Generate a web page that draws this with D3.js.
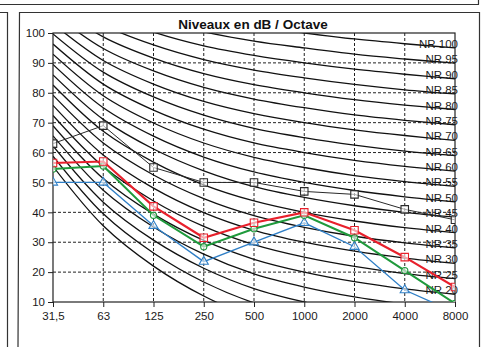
<!DOCTYPE html>
<html>
<head>
<meta charset="utf-8">
<script src="https://cdn.jsdelivr.net/npm/d3@7"></script>
<style>
  html, body { margin: 0; padding: 0; background: #fff; }
  svg { display: block; font-family: "Liberation Sans", Arial, sans-serif; }
</style>
</head>
<body>
<main></main>
<script>
"use strict";

const freqLabels = ["31,5", "63", "125", "250", "500", "1000", "2000", "4000", "8000"];
const yTicks = [10, 20, 30, 40, 50, 60, 70, 80, 90, 100];

// NR reference curves, read per octave band
const nrNames = [0, 5, 10, 15, 20, 25, 30, 35, 40, 45, 50, 55, 60, 65, 70, 75, 80, 85, 90, 95, 100];
const nr0 = [55.4, 35.5, 22.0, 12.0, 4.8, 0.0, -3.5, -6.1, -8.0];
const nr5 = [58.8, 39.5, 26.4, 16.7, 9.7, 5.0, 1.6, -1.0, -2.9];
const nr10 = [62.2, 43.4, 30.7, 21.3, 14.5, 10.0, 6.7, 4.2, 2.3];
const nr15 = [65.6, 47.4, 35.1, 26.0, 19.4, 15.0, 11.7, 9.3, 7.5];
const nr20 = [69.0, 51.3, 39.4, 30.6, 24.3, 20.0, 16.8, 14.4, 12.6];
const nr25 = [72.4, 55.3, 43.8, 35.3, 29.2, 25.0, 21.9, 19.5, 17.8];
const nr30 = [75.8, 59.2, 48.1, 39.9, 34.0, 30.0, 27.0, 24.7, 22.9];
const nr35 = [79.2, 63.2, 52.5, 44.6, 38.9, 35.0, 32.0, 29.8, 28.1];
const nr40 = [82.6, 67.1, 56.8, 49.2, 43.8, 40.0, 37.1, 34.9, 33.2];
const nr45 = [86.0, 71.1, 61.2, 53.9, 48.6, 45.0, 42.2, 40.0, 38.4];
const nr50 = [89.5, 75.0, 65.5, 58.5, 53.5, 50.0, 47.3, 45.2, 43.5];
const nr55 = [92.9, 79.0, 69.9, 63.2, 58.4, 55.0, 52.3, 50.3, 48.7];
const nr60 = [96.3, 82.9, 74.2, 67.8, 63.2, 60.0, 57.4, 55.4, 53.8];
const nr65 = [99.7, 86.9, 78.6, 72.5, 68.1, 65.0, 62.5, 60.5, 59.0];
const nr70 = [103.1, 90.8, 82.9, 77.1, 73.0, 70.0, 67.6, 65.7, 64.1];
const nr75 = [106.5, 94.8, 87.3, 81.8, 77.9, 75.0, 72.6, 70.8, 69.3];
const nr80 = [109.9, 98.7, 91.6, 86.4, 82.7, 80.0, 77.7, 75.9, 74.4];
const nr85 = [113.3, 102.7, 96.0, 91.1, 87.6, 85.0, 82.8, 81.0, 79.6];
const nr90 = [116.7, 106.6, 100.3, 95.7, 92.5, 90.0, 87.9, 86.2, 84.7];
const nr95 = [120.1, 110.6, 104.7, 100.4, 97.3, 95.0, 92.9, 91.3, 89.9];
const nr100 = [123.5, 114.5, 109.0, 105.0, 102.2, 100.0, 98.0, 96.4, 95.0];
const nrCurves = [nr0, nr5, nr10, nr15, nr20, nr25, nr30, nr35, nr40, nr45, nr50,
  nr55, nr60, nr65, nr70, nr75, nr80, nr85, nr90, nr95, nr100];
const nrLabelFrom = 20;

// measured levels
const blackLevels = [63, 69, 55, 50, 50, 47, 46, 41, 37.5];
const blueLevels = [50, 50, 35.5, 23.5, 30, 36.5, 28.5, 14, 6.5];
const greenLevels = [54.5, 55.5, 39, 28.5, 34.5, 39, 31.5, 20.5, 9.5];
const redLevels = [56.5, 57, 42, 31.5, 36.5, 40, 34, 25, 15];

const svgWidth = 490;
const svgHeight = 347;
const plot = { left: 53, right: 455, top: 33, bottom: 302 };

const svg = d3.select("main")
  .append("svg")
  .attr("width", svgWidth)
  .attr("height", svgHeight)
;

// scanned page frame
const frame = svg.append("g")
  .attr("fill", "none")
  .attr("stroke", "#333")
  .attr("stroke-width", 1.2)
;
frame.append("path").attr("d", "M0,4.5H479M478.5,0V4.5");
frame.append("path").attr("d", "M0,12.5H7.5M7.5,12V347");
frame.append("path").attr("d", "M18,347L19.5,12.5H479.5V347");

const xScale = d3.scalePoint()
  .domain(freqLabels)
  .range([plot.left, plot.right])
;
const yScale = d3.scaleLinear()
  .domain([10, 100])
  .range([plot.bottom, plot.top])
;

svg.append("defs")
  .append("clipPath")
  .attr("id", "plot-clip")
  .append("rect")
  .attr("x", plot.left)
  .attr("y", plot.top)
  .attr("width", plot.right - plot.left)
  .attr("height", plot.bottom - plot.top)
;

svg.append("text")
  .attr("x", 253)
  .attr("y", 29)
  .attr("text-anchor", "middle")
  .attr("font-size", 13.5)
  .attr("font-weight", "bold")
  .attr("fill", "#111")
  .text("Niveaux en dB / Octave")
;

// dashed grid
svg.append("g")
  .selectAll("line")
  .data(yTicks.slice(1, -1))
  .enter()
  .append("line")
  .attr("x1", plot.left)
  .attr("x2", plot.right)
  .attr("y1", d => yScale(d))
  .attr("y2", d => yScale(d))
  .attr("stroke", "#222")
  .attr("stroke-dasharray", "3,2")
;
svg.append("g")
  .selectAll("line")
  .data(freqLabels.slice(1, -1))
  .enter()
  .append("line")
  .attr("x1", d => xScale(d))
  .attr("x2", d => xScale(d))
  .attr("y1", plot.top)
  .attr("y2", plot.bottom)
  .attr("stroke", "#222")
  .attr("stroke-dasharray", "3,2")
;

// NR curves
const smoothLine = d3.line()
  .x((d, i) => xScale(freqLabels[i]))
  .y(d => yScale(d))
  .curve(d3.curveCatmullRom)
;
svg.append("g")
  .attr("clip-path", "url(#plot-clip)")
  .selectAll("path")
  .data(nrCurves)
  .enter()
  .append("path")
  .attr("d", smoothLine)
  .attr("fill", "none")
  .attr("stroke", "#111")
  .attr("stroke-width", 1.3)
;

svg.append("g")
  .selectAll("text")
  .data(nrNames.map((n, i) => ({ n: n, last: nrCurves[i][8] })).filter(d => d.n >= nrLabelFrom))
  .enter()
  .append("text")
  .attr("x", plot.right + 3)
  .attr("y", d => yScale(d.last) - 4)
  .attr("dy", "0.35em")
  .attr("text-anchor", "end")
  .attr("font-size", 11.5)
  .attr("fill", "#1a1a1a")
  .text(d => "NR " + d.n)
;

// plot frame
svg.append("rect")
  .attr("x", plot.left)
  .attr("y", plot.top)
  .attr("width", plot.right - plot.left)
  .attr("height", plot.bottom - plot.top)
  .attr("fill", "none")
  .attr("stroke", "#222")
  .attr("stroke-width", 1.2)
;

const yAxis = d3.axisLeft(yScale)
  .tickValues(yTicks)
  .tickSize(5)
  .tickPadding(3)
;
svg.append("g")
  .attr("transform", `translate(${plot.left}, 0)`)
  .call(yAxis)
  .call(g => g.select(".domain").remove())
  .call(g => g.selectAll("text").attr("font-size", 11.5).attr("fill", "#1a1a1a").attr("font-family", null))
  .call(g => g.selectAll("line").attr("stroke", "#222"))
;

const xAxis = d3.axisBottom(xScale)
  .tickSize(5)
  .tickPadding(5)
;
svg.append("g")
  .attr("transform", `translate(0, ${plot.bottom})`)
  .call(xAxis)
  .call(g => g.select(".domain").remove())
  .call(g => g.selectAll("text").attr("font-size", 11.5).attr("fill", "#1a1a1a").attr("font-family", null))
  .call(g => g.selectAll("line").attr("stroke", "#222"))
;

// measured series
const straightLine = d3.line()
  .x((d, i) => xScale(freqLabels[i]))
  .y(d => yScale(d))
;
const series = [
  { values: blackLevels, color: "#2a2a2a", width: 1, marker: "square" },
  { values: blueLevels, color: "#2f7fc6", width: 1.3, marker: "triangle" },
  { values: greenLevels, color: "#1f9a3c", width: 2, marker: "circle" },
  { values: redLevels, color: "#e8202c", width: 2.2, marker: "square" }
];
const symbols = {
  square: d3.symbol(d3.symbolSquare, 56),
  triangle: d3.symbol(d3.symbolTriangle, 36),
  circle: d3.symbol(d3.symbolCircle, 30)
};

const seriesG = svg.append("g")
  .attr("clip-path", "url(#plot-clip)")
;
series.forEach(s => {
  seriesG.append("path")
    .attr("d", straightLine(s.values))
    .attr("fill", "none")
    .attr("stroke", s.color)
    .attr("stroke-width", s.width)
  ;
  seriesG.append("g")
    .selectAll("path")
    .data(s.values)
    .enter()
    .append("path")
    .attr("transform", (d, i) => `translate(${xScale(freqLabels[i])}, ${yScale(d)})`)
    .attr("d", symbols[s.marker])
    .attr("fill", "white")
    .attr("fill-opacity", 0.6)
    .attr("stroke", s.color)
    .attr("stroke-width", 1.1)
  ;
});
</script>
</body>
</html>
